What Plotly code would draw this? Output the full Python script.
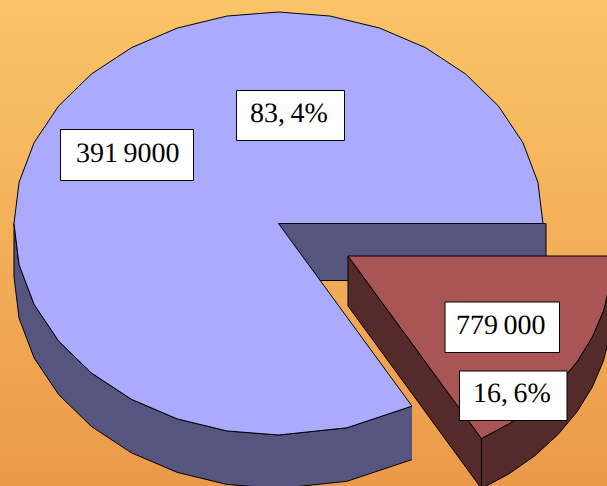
import numpy as np
import plotly.graph_objects as go

# Data
categories = ["A", "B"]
values = [3919000, 779000]
value_labels = ["391\u20099000", "779\u2009000"]
percent_labels = ["83,\u20094%", "16,\u20096%"]

# Pie geometry (in page pixels)
W, H = 607, 486
cx, cy, rx, ry = 278.5, 223.5, 264.5, 211.5
depth = 53.5
back_depth = 57
back_over = 3
ex_dx, ex_dy = 69.5, 32.5
ex_depth = 50

# Style
bg_top, bg_bottom = "#FAC469", "#EB9948"
main_top, main_side = "#AAAAFF", "#55557F"
slice_top, slice_side = "#AA5555", "#552A2A"
font = "Liberation Serif"

slice_angle = 360 * values[1] / sum(values)
grid = 11.25 * np.arange(0, 33)
fine_grid = 7.5 * np.arange(0, 8)


def rim(a, x0=cx, y0=cy):
    t = np.radians(a)
    return x0 + rx * np.cos(t), y0 + ry * np.sin(t)


def poly(x, y, fill):
    return go.Scatter(x=list(x), y=list(y), mode="lines", fill="toself", fillcolor=fill,
                      line=dict(color="black", width=1), hoverinfo="skip", showlegend=False)


fig = go.Figure()
fig.add_trace(go.Heatmap(x=[0, W], y=[0, H], z=[[0, 0], [1, 1]], zsmooth="best", showscale=False,
                         colorscale=[[0, bg_top], [1, bg_bottom]], hoverinfo="skip"))

# Main slice
main_angles = [slice_angle, 75] + [a for a in grid if a >= 90]
side_angles = np.array([a for a in main_angles if a <= 180])
sx, sy = rim(side_angles)
fig.add_trace(poly(np.r_[sx, sx[::-1]], np.r_[sy, sy[::-1] + depth], main_side))
fig.add_trace(poly([cx, cx + rx + back_over, cx + rx + back_over, cx, cx],
                   [cy, cy, cy + back_depth, cy + back_depth, cy], main_side))
mx, my = rim(np.array(main_angles))
fig.add_trace(poly(np.r_[cx, mx, cx], np.r_[cy, my, cy], main_top))

# Exploded slice
ox, oy = cx + ex_dx, cy + ex_dy
ang = np.array([a for a in fine_grid if a < slice_angle - 5] + [slice_angle])
px, py = rim(ang, ox, oy)
fig.add_trace(poly([ox, px[-1], px[-1], ox, ox],
                   [oy, py[-1], py[-1] + ex_depth, oy + ex_depth, oy], slice_side))
fig.add_trace(poly(np.r_[px, px[::-1]], np.r_[py, py[::-1] + ex_depth], slice_side))
fig.add_trace(poly(np.r_[ox, px, ox], np.r_[oy, py, oy], slice_top))
fig.add_trace(go.Scatter(x=[px[-1], px[-1]], y=[py[-1], py[-1] + ex_depth], mode="lines",
                         line=dict(color="black", width=1), hoverinfo="skip", showlegend=False))


def label(text, x0, y0, x1, y1, tx, ty):
    fig.add_shape(type="rect", xref="x", yref="y", x0=x0, y0=y0, x1=x1, y1=y1,
                  fillcolor="white", line=dict(color="black", width=1), layer="above")
    fig.add_annotation(x=tx, y=ty, xref="x", yref="y", text=text, showarrow=False,
                       font=dict(family=font, size=28, color="black"))


label(value_labels[0], 60.5, 129.5, 193.5, 180.5, 127.5, 152)
label(percent_labels[0], 236.5, 90.5, 344.5, 140.5, 289, 112)
label(value_labels[1], 445, 302, 559.5, 352.5, 500.5, 324)
label(percent_labels[1], 459.5, 371, 567, 420.5, 512, 392.5)

fig.update_layout(width=W, height=H, margin=dict(l=0, r=0, t=0, b=0), autosize=False,
                  paper_bgcolor=bg_bottom, plot_bgcolor=bg_bottom, showlegend=False,
                  xaxis=dict(range=[0, W], visible=False, fixedrange=True),
                  yaxis=dict(range=[H, 0], visible=False, fixedrange=True))
fig.write_html("out.html", config=dict(displayModeBar=False),
               post_script="document.body.style.margin='0';document.body.style.overflow='hidden';"
                           "document.querySelectorAll('svg text').forEach(function(t){t.style.textRendering='geometricPrecision';});")
